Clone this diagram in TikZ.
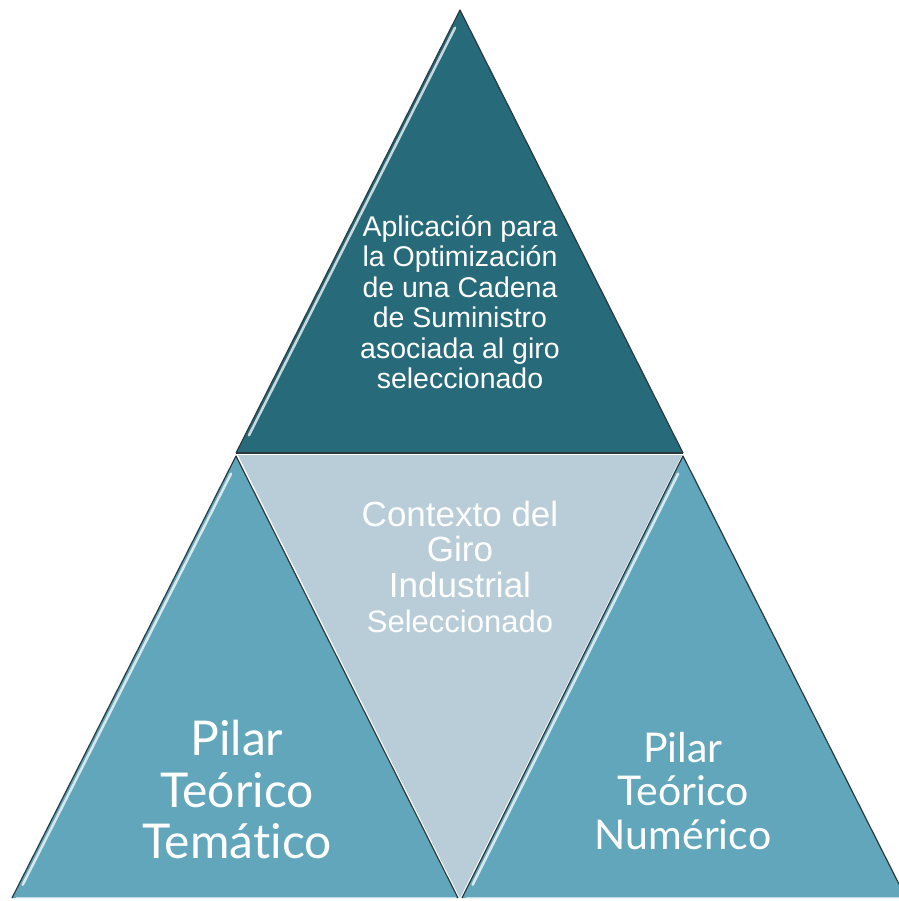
\documentclass[tikz,border=0pt]{standalone}
\usepackage{fontspec}
\usetikzlibrary{calc}
\setmainfont{Liberation Sans}
\newfontfamily\gillfont[Ligatures=NoCommon]{Lato}
\definecolor{topteal}{HTML}{276A7A}
\definecolor{sideteal}{HTML}{62A6BB}
\definecolor{midgray}{HTML}{B8CDD7}
\definecolor{edgedark}{HTML}{2A3A40}
\tikzset{
  tri/.style={draw=edgedark, line width=1.2pt, line join=round},
  shine/.style={draw=white, line width=2.5pt, opacity=0.75, line cap=round},
  txt/.style={text=white, align=center, inner sep=0pt},
}
\begin{document}
\begin{tikzpicture}[x=1pt,y=-1pt]
\useasboundingbox (0,0) rectangle (898,901);
% coordinates
\coordinate (TA) at (460,10);
\coordinate (TL) at (236,453);
\coordinate (TR) at (683,453);
\coordinate (LA) at (236,456);
\coordinate (LL) at (12,898);
\coordinate (LR) at (458,898);
\coordinate (RA) at (683,456);
\coordinate (RL) at (462,898);
\coordinate (RR) at (906,898);
\coordinate (ML) at (238,455);
\coordinate (MR) at (682,455);
\coordinate (MB) at (460,898);
% triangles
\fill[sideteal] (LA) -- (LL) -- (LR) -- cycle;
\fill[sideteal] (RA) -- (RL) -- (RR) -- cycle;
\fill[midgray] (ML) -- (MR) -- (MB) -- cycle;
\fill[topteal] (TA) -- (TL) -- (TR) -- cycle;
% outlines
\draw[tri] (TL) -- (TA) -- (TR);
\draw[edgedark, line width=1.4pt] (TL) -- (TR);
\draw[tri] (LL) -- (LA) -- (LR);
\draw[tri] (RL) -- (RA) -- (RR);
% highlights
\draw[shine] ($(TA)!0.04!(TL)+(4,0)$) -- ($(TA)!0.96!(TL)+(4,0)$);
\draw[shine] ($(LA)!0.04!(LL)+(4,0)$) -- ($(LA)!0.97!(LL)+(4,0)$);
\draw[shine] ($(RA)!0.04!(RL)+(4,0)$) -- ($(RA)!0.97!(RL)+(4,0)$);
\draw[white, line width=1pt, opacity=0.6] ($(LL)+(4,-1)$) -- ($(LR)+(-2,-1)$);
\draw[white, line width=1pt, opacity=0.6] ($(RL)+(4,-1)$) -- ($(RR)+(-6,-1)$);
% texts
\node[txt, font=\fontsize{28.5}{30.5}\selectfont] (ttop) at (460,302)
  {Aplicación para\\la Optimización\\de una Cadena\\de Suministro\\asociada al giro\\seleccionado};
\node[txt, font=\fontsize{35}{35.3}\selectfont] (tmid) at (460,567)
  {Contexto del\\Giro\\Industrial\\{\fontsize{31}{35.3}\selectfont Seleccionado}};
\node[txt, font=\gillfont\fontsize{48}{51.5}\selectfont] (tleft) at (237,790)
  {Pilar\\Teórico\\Temático};
\node[txt, font=\gillfont\fontsize{41}{43.5}\selectfont] (tright) at (683,791)
  {Pilar\\Teórico\\Numérico};
\end{tikzpicture}
\end{document}
